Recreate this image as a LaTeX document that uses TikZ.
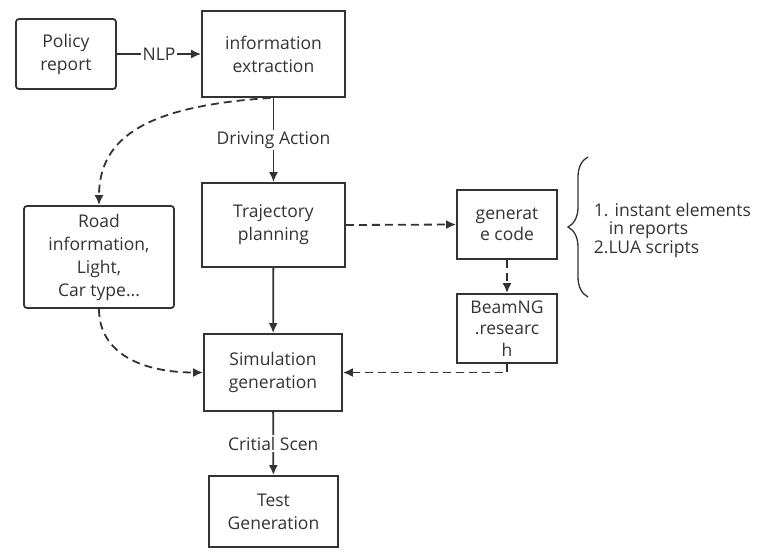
\documentclass[tikz,border=0pt]{standalone}
\usepackage{fontspec}
\setmainfont{Open Sans}
\usetikzlibrary{arrows.meta,positioning,decorations.pathreplacing}
\tikzset{
  basic/.style  = {draw, line width=1.8pt, rectangle, align=center, font=\fontsize{17.5}{23}\selectfont, inner sep=2pt},
  source/.style = {basic, rounded corners=3pt},
  stage/.style  = {basic},
  tool/.style   = {basic, font=\fontsize{17.5}{21.5}\selectfont, minimum width=100pt, minimum height=69pt},
  flow/.style   = {fill=white, font=\fontsize{17.5}{20}\selectfont, inner sep=1.5pt},
  notes/.style  = {align=left, font=\fontsize{17.5}{18.5}\selectfont, inner sep=0pt},
  dashes/.style = {dash pattern=on 8pt off 5pt}
}
\begin{document}
\begin{tikzpicture}[x=1pt,y=-1pt,>={Latex[length=10pt,width=9pt]},line width=1.8pt,color=black!80]
    \useasboundingbox (0,0) rectangle (784,558);

    % main chain, top to bottom
    \node[source, minimum width=100pt, minimum height=70pt] (policy) at (66,54) {Policy\\report};
    \node[stage, minimum width=143pt, minimum height=86pt] (info) at (273.5,54) {information\\extraction};
    \node[stage, minimum width=143pt, minimum height=84pt] (traj) at (273.5,225) {Trajectory\\planning};
    \node[stage, minimum width=138pt, minimum height=77pt] (sim) at (273,372.5) {Simulation\\generation};
    \node[stage, minimum width=129pt, minimum height=71pt] (test) at (273.5,511.5) {Test\\Generation};

    % side boxes
    \node[source, minimum width=150pt, minimum height=102pt] (road) at (99,257) {Road\\information,\\Light,\\Car type...};
    \node[tool] (gen) at (507,224.5) {generat\\e code};
    \node[tool] (beam) at (507,328.5) {BeamNG\\.researc\\h};

    \node[notes, anchor=north west] (list) at (593,202) {1. instant elements\\\hspace*{15pt}in reports\\2.LUA scripts};
    \draw[decorate, decoration={brace, amplitude=20pt, aspect=0.5}, line width=1.3pt] (588,297) -- (588,157);

    \draw[->] (policy) -- node[flow] {NLP} (info);
    \draw[->] (info) -- node[flow] {Driving Action} (traj);
    \draw[->] (traj) -- (sim);
    \draw[->] (sim) -- node[flow] {Critial Scen} (test);

    \draw[->, dashes] ([xshift=-3pt]info.south) .. controls +(-120,8) and +(0,-70) .. (road.north);
    \draw[->, dashes] (road.south) .. controls +(0,45) and +(-60,0) .. (sim.west);
    \draw[->, dashes] (traj.east) -- (gen.west);
    \draw[->, dashes] (gen) -- (beam);
    \draw[->, dashes] (beam.south) |- (sim.east);
\end{tikzpicture}
\end{document}
